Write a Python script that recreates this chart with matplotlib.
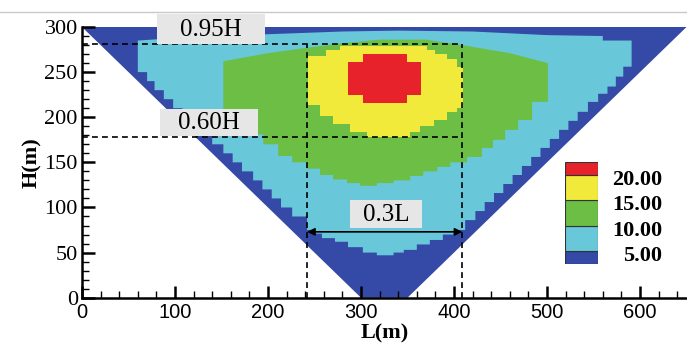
import matplotlib
matplotlib.use("Agg")
import matplotlib.pyplot as plt
from matplotlib.patches import Polygon, Rectangle
from matplotlib.lines import Line2D

# ---- data ---------------------------------------------------------------
# outer section (dark blue, < 5)
section_x = [0, 650, 350, 300]
section_y = [300, 300, 0, 0]

# light blue (5-10): top curve, right/left staircases (row edges, x)
lb_top_x = [60, 120, 200, 280, 340, 420, 500, 560, 560, 591]
lb_top_y = [285, 289, 292, 295, 296, 295, 291, 290, 285, 285]
lb_right_y = [284, 256, 245, 234, 226, 217, 206, 196, 186, 176, 166, 156, 146,
              136, 126, 116, 106, 96, 86, 75, 70, 64, 59, 53, 50, 47]
lb_right_x = [591, 582, 574, 565, 555, 544, 533, 523, 513, 503, 493, 483, 473,
              463, 453, 443, 433, 423, 412, 400, 388, 374, 360, 346, 335]
lb_left_y = [284, 250, 240, 230, 220, 210, 200, 190, 180, 170, 160, 150, 140,
             130, 120, 110, 100, 90, 75, 71, 66, 62, 56, 50, 47]
lb_left_x = [60, 70, 78, 88, 98, 108, 118, 128, 140, 152, 162, 172, 184,
             194, 204, 214, 226, 242, 250, 258, 272, 286, 302, 317]

# green (10-15)
gr_top_x = [152, 200, 242, 280, 320, 370, 414, 460, 501]
gr_top_y = [262, 271, 277, 282, 286, 286, 279, 271, 260]
gr_right_y = [260, 217, 197, 186, 175, 166, 156, 150, 145, 140, 135, 130, 127, 124]
gr_right_x = [501, 484, 469, 455, 442, 430, 414, 396, 382, 367, 353, 335, 317]
gr_left_y = [262, 208, 195, 181, 170, 157, 150, 143, 136, 131, 127, 124]
gr_left_x = [152, 165, 180, 195, 211, 226, 242, 256, 270, 285, 299]

# yellow (15-20)
ye_right_y = [279, 275, 270, 264, 256, 210, 206, 197, 190, 184, 178]
ye_right_x = [371, 380, 392, 403, 410, 403, 392, 378, 363, 353]
ye_left_y = [279, 274, 268, 214, 201, 192, 184, 178]
ye_left_x = [277, 262, 243, 256, 270, 288, 306]

# red (> 20)
re_right_y = [270, 261, 225, 216]
re_right_x = [349, 365, 349]
re_left_y = [270, 261, 225, 216]
re_left_x = [302, 286, 302]

# guide lines
h95 = 281
h60 = 178
l_left = 242
l_right = 409
arrow_y = 73

# legend
legend_levels = [5, 10, 15, 20]
legend_labels = ["5.00", "10.00", "15.00", "20.00"]
legend_bottoms = [2.5, 5, 10, 15, 20]
legend_heights = [2.5, 5, 5, 5, 2.5]

colors = ["#3549a6", "#68c8da", "#6cbe45", "#f2ea3b", "#e8222a"]

SERIF = "Liberation Serif"
SANS = "Liberation Sans"


def stairs(y_edges, xs):
    pts = []
    for i, x in enumerate(xs):
        pts.append((x, y_edges[i]))
        pts.append((x, y_edges[i + 1]))
    return pts


def region(left_y, left_x, right_y, right_x, top_x=(), top_y=()):
    pts = list(zip(top_x, top_y))
    pts += stairs(right_y, right_x)
    pts += stairs(left_y, left_x)[::-1]
    return pts


fig = plt.figure(figsize=(6.87, 3.45), dpi=100)
fig.add_artist(Line2D([0, 1], [1 - 12 / 345] * 2, color="#c8c8c8", lw=1,
                      transform=fig.transFigure))

ax = fig.add_axes([82 / 687, 47.3 / 345, 604.5 / 687, 270.7 / 345])

outer = Polygon(list(zip(section_x, section_y)), closed=True,
                facecolor=colors[0], edgecolor="none", zorder=1)
ax.add_patch(outer)

shapes = [
    region(lb_left_y, lb_left_x, lb_right_y, lb_right_x, lb_top_x, lb_top_y),
    region(gr_left_y, gr_left_x, gr_right_y, gr_right_x, gr_top_x, gr_top_y),
    region(ye_left_y, ye_left_x, ye_right_y, ye_right_x),
    region(re_left_y, re_left_x, re_right_y, re_right_x),
]
for k, pts in enumerate(shapes):
    p = Polygon(pts, closed=True, facecolor=colors[k + 1], edgecolor="none",
                zorder=2 + k)
    ax.add_patch(p)
    p.set_clip_path(outer)

# dashed guides
dash = dict(color="black", lw=1.2, ls=(0, (3.5, 2.5)), zorder=8)
ax.plot([0, l_right], [h95, h95], **dash)
ax.plot([0, l_right], [h60, h60], **dash)
ax.plot([l_left, l_left], [0, h95], **dash)
ax.plot([l_right, l_right], [0, h95], **dash)

ax.annotate("", xy=(l_left, arrow_y), xytext=(l_right, arrow_y),
            arrowprops=dict(arrowstyle="<|-|>", color="black", lw=1.2,
                            mutation_scale=11, shrinkA=0, shrinkB=0),
            zorder=9)

# label boxes
boxes = [
    ("0.95H", 80.6, 280.8, 116.2, 33.3),
    ("0.60H", 83.9, 179.6, 105.3, 29.0),
    ("0.3L", 288.0, 77.4, 77.6, 31.2),
]
for txt, bx, by, bw, bh in boxes:
    ax.add_patch(Rectangle((bx, by), bw, bh, facecolor="#e6e6e6",
                           edgecolor="none", zorder=10, clip_on=False))
    ax.text(bx + bw / 2, by + bh / 2 - 1, txt, ha="center", va="center",
            fontsize=18, family=SERIF, zorder=11, clip_on=False)

# axes styling
ax.set_xlim(0, 650)
ax.set_ylim(0, 300)
for s in ["top", "right"]:
    ax.spines[s].set_visible(False)
for s in ["left", "bottom"]:
    ax.spines[s].set_linewidth(1.8)
    ax.spines[s].set_zorder(12)
ax.set_xticks(range(0, 601, 100))
ax.set_xticks(range(0, 651, 20), minor=True)
ax.set_yticks(range(0, 301, 50))
ax.set_yticks(range(0, 301, 10), minor=True)
ax.tick_params(which="major", direction="in", length=9, width=1.8, pad=5)
ax.tick_params(which="minor", direction="in", length=5, width=1)
ax.tick_params(axis="x", which="major", labelsize=14.5, pad=4,
               labelfontfamily=SANS)
ax.tick_params(axis="y", which="major", labelsize=16, pad=3,
               labelfontfamily=SERIF)
ax.set_xlabel("L(m)", fontsize=16, fontweight="bold", family=SERIF, labelpad=1)
ax.set_ylabel("H(m)", fontsize=16, fontweight="bold", family=SERIF, labelpad=2)

# legend
axl = fig.add_axes([565 / 687, (345 - 264) / 345, 33 / 687, 102 / 345])
axl.bar(0.5, legend_heights, bottom=legend_bottoms, width=1.0, color=colors,
        edgecolor="#333333", lw=0.8)
axl.set_xlim(0, 1)
axl.set_ylim(2.5, 22.5)
axl.axis("off")
for lev, lab in zip(legend_levels, legend_labels):
    axl.text(2.94, lev - 1, lab, ha="right", va="center", fontsize=16,
             fontweight="bold", family=SERIF, clip_on=False)

fig.savefig("out.png", dpi=100)
